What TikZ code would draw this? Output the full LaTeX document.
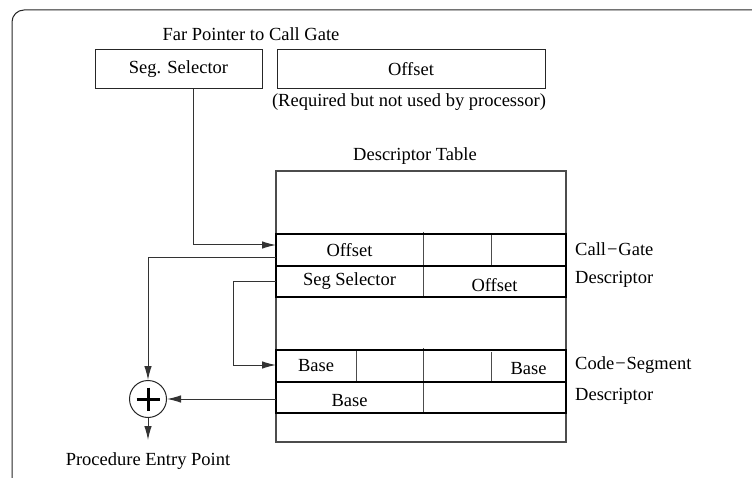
\documentclass[tikz,border=0pt]{standalone}
\usepackage{fontspec}
\setmainfont{Liberation Serif}
\usetikzlibrary{arrows.meta}

\tikzset{
    box/.style={draw=black!85, line width=1pt, minimum height=39pt, inner sep=0pt},
    row/.style={draw=black, line width=1.7pt},
    cell/.style={draw=black!70, line width=1pt},
    conn/.style={draw=black!80, line width=1pt, -{Latex[length=14pt,width=7.5pt]}},
    lbl/.style={inner sep=0pt}
}

\begin{document}
\begin{tikzpicture}[x=1pt, y=-1pt, every node/.style={font=\fontsize{18.5}{21}\selectfont}]
        \useasboundingbox (0, 0) rectangle (752, 478);

        % frame
        \draw[black!85, line width=1pt, rounded corners=12pt] (12, 478) -- (12, 10) -- (752, 10);

        % far pointer
        \node[lbl] (fartitle) at (251, 34) {Far Pointer to Call Gate};
        \node[box, minimum width=167pt] (segsel) at (178.5, 69.5) {Seg. Selector};
        \node[box, minimum width=268pt] (offset) at (411, 69.5) {Offset};
        \node[lbl] (req) at (409, 102) {(Required but not used by processor)};

        % descriptor table
        \node[lbl] (tabtitle) at (415, 156) {Descriptor Table};
        \draw[black!70, line width=1.1pt] (276, 171) rectangle (566, 442);

        % call-gate descriptor
        \draw[cell] (423, 232) -- (423, 297);
        \draw[cell] (491, 234) -- (491, 266);
        \draw[row] (276, 234) rectangle (566, 266);
        \draw[row] (276, 266) -- (276, 297) -- (566, 297) -- (566, 266);
        \node (cgoffset) at (349.5, 250) {Offset};
        \node (cgsel) at (349.5, 281) {Seg Selector};
        \node (cgoffset2) at (494.5, 285) {Offset};
        \node[lbl, anchor=west] (cglabel) at (575, 249) {Call{\kern1pt}\textminus{\kern1pt}Gate};
        \node[lbl, anchor=west] (cglabel2) at (575, 279) {Descriptor};

        % code-segment descriptor
        \draw[cell] (356, 350) -- (356, 382);
        \draw[cell] (423, 348) -- (423, 413);
        \draw[cell] (491, 352) -- (491, 382);
        \draw[row] (276, 350) rectangle (566, 382);
        \draw[row] (276, 382) -- (276, 413) -- (566, 413) -- (566, 382);
        \node (csbase) at (316, 366) {Base};
        \node (csbase2) at (528.5, 369) {Base};
        \node (csbase3) at (349.5, 401) {Base};
        \node[lbl, anchor=west] (cslabel) at (575, 365) {Code{\kern1pt}\textminus{\kern1pt}Segment};
        \node[lbl, anchor=west] (cslabel2) at (575, 396) {Descriptor};

        % adder
        \node[circle, draw=black!85, line width=1pt, minimum size=37pt, inner sep=0pt] (adder) at (148, 399) {};
        \draw[line width=3pt] (136.5, 399) -- (159.5, 399);
        \draw[line width=3pt] (148, 387.5) -- (148, 410.5);
        \node[lbl] (entry) at (148, 461) {Procedure Entry Point};

        \coordinate (cgin) at (276, 245);
        \coordinate (cgout) at (276, 258);
        \coordinate (selout) at (276, 282);
        \coordinate (csin) at (276, 365);
        \coordinate (csout) at (276, 399);
        \coordinate (entrytop) at (148, 440);

        % connectors
        \draw[conn] (segsel.south) ++(14.5, 0) |- (cgin);
        \draw[conn] (cgout) -| (adder.north);
        \draw[conn] (selout) -- ++(-43, 0) |- (csin);
        \draw[conn] (csout) -- (adder.east);
        \draw[conn] (adder.south) -- (entrytop);
    \end{tikzpicture}
\end{document}
